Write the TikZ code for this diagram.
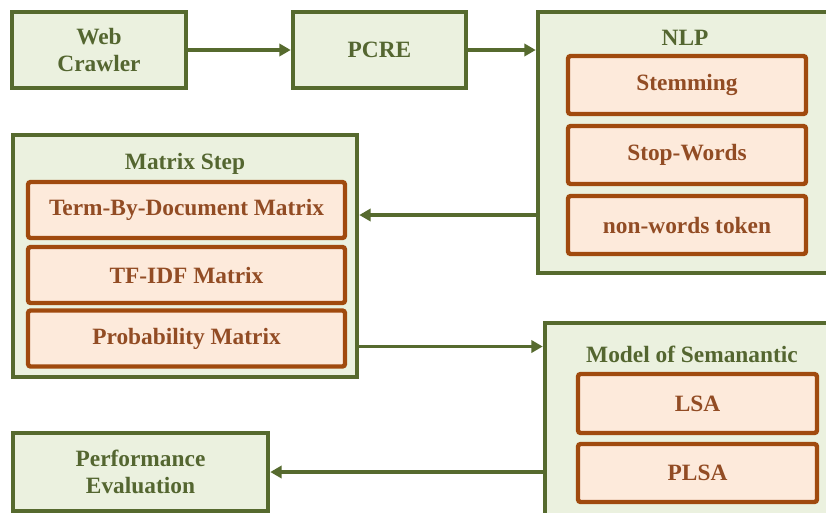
\documentclass[tikz,border=0pt]{standalone}
\usepackage{fontspec}
\setmainfont{Liberation Serif}
\usepackage{xcolor}
\usetikzlibrary{arrows.meta,positioning}
\definecolor{stepgreen}{RGB}{86,106,46}
\definecolor{stepfill}{RGB}{235,241,223}
\definecolor{steptext}{RGB}{84,102,48}
\definecolor{itemrust}{RGB}{160,74,14}
\definecolor{itempeach}{RGB}{253,234,219}
\definecolor{itemtext}{RGB}{146,76,36}

\tikzset{
  greenbox/.style={draw=stepgreen,fill=stepfill,line width=2.6pt,text=steptext,
    align=center,inner sep=0pt},
  orangebox/.style={draw=itemrust,fill=itempeach,line width=2.5pt,text=itemtext,
    rounded corners=1.5pt,minimum width=#1,minimum height=1.16cm,inner sep=0pt},
  orangebox/.default=4.76cm,
  boxtitle/.style={text=steptext,inner sep=0pt},
  flowarrow/.style={draw=stepgreen,line width=2.2pt,
    -{Triangle[length=6.5pt,width=7pt]}}
}

\begin{document}
\begin{tikzpicture}[font=\fontsize{13.3}{15.3}\selectfont\bfseries]

%% ── canvas ───────────────────────────────────────────────────────────────────
\useasboundingbox (0,0) rectangle (16.52,-10.24);
\fill[white] (0,0) rectangle (16.52,-10.24);

%% ── top row ──────────────────────────────────────────────────────────────────
\node[greenbox,minimum width=3.48cm,minimum height=1.52cm] (crawler)
  at (1.98,-1.0) {Web\\Crawler};
\node[greenbox,minimum width=3.46cm,minimum height=1.52cm] (pcre)
  at (7.59,-1.0) {PCRE};

%% ── NLP group ────────────────────────────────────────────────────────────────
\node[greenbox,minimum width=5.88cm,minimum height=5.22cm] (nlp)
  at (13.7,-2.85) {};
\node[boxtitle] (nlptitle) at (13.7,-0.76) {NLP};
\node[orangebox] (stem) at (13.74,-1.70) {Stemming};
\node[orangebox] (stop) at (13.74,-3.10) {Stop-Words};
\node[orangebox] (nonword) at (13.74,-4.50) {non-words token};

%% ── matrix group ─────────────────────────────────────────────────────────────
\node[greenbox,minimum width=6.88cm,minimum height=4.84cm] (matrix)
  at (3.70,-5.12) {};
\node[boxtitle] (matrixtitle) at (3.70,-3.28) {Matrix Step};
\node[orangebox=6.34cm,minimum height=1.12cm] (term) at (3.73,-4.20)
  {Term-By-Document Matrix};
\node[orangebox=6.34cm,minimum height=1.12cm] (tfidf) at (3.73,-5.50)
  {TF-IDF Matrix};
\node[orangebox=6.34cm,minimum height=1.12cm] (prob) at (3.73,-6.77)
  {Probability Matrix};

%% ── semantic model group ─────────────────────────────────────────────────────
\node[greenbox,minimum width=5.74cm,minimum height=3.94cm] (model)
  at (13.77,-8.43) {};
\node[boxtitle] (modeltitle) at (13.84,-7.08) {Model of Semanantic};
\node[orangebox=4.78cm,minimum height=1.18cm] (lsa) at (13.95,-8.07) {LSA};
\node[orangebox=4.78cm] (plsa) at (13.95,-9.46) {PLSA};

%% ── evaluation ───────────────────────────────────────────────────────────────
\node[greenbox,minimum width=5.10cm,minimum height=1.56cm] (perf)
  at (2.81,-9.44) {Performance\\Evaluation};

%% ── arrows ───────────────────────────────────────────────────────────────────
\coordinate (rowa) at (0,-4.30);
\coordinate (rowb) at (0,-6.93);
\draw[flowarrow] (crawler) -- (pcre);
\draw[flowarrow] (pcre) -- (nlp.west |- pcre);
\draw[flowarrow] (nlp.west |- rowa) -- (matrix.east |- rowa);
\draw[flowarrow] (matrix.east |- rowb) -- (model.west |- rowb);
\draw[flowarrow] (model.west |- perf) -- (perf);

\end{tikzpicture}
\end{document}
